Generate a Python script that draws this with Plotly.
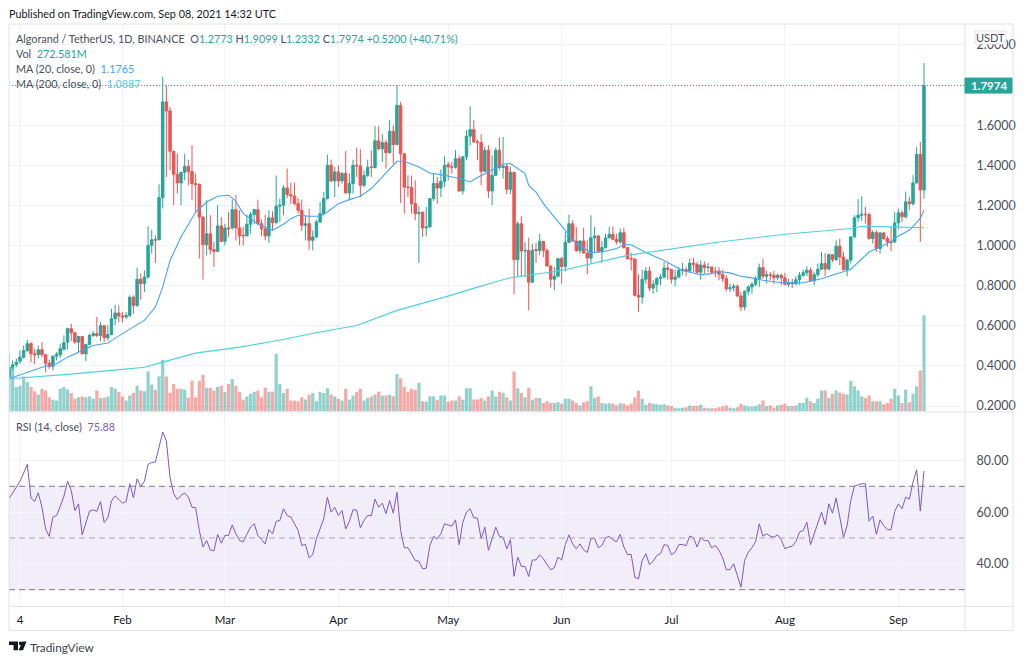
#!/usr/bin/env python3
# ALGO/USDT daily chart, price + volume + RSI panes
import pandas as pd
import plotly.graph_objects as go

# one value per day, Jan 1 -> Sep 8 2021, one line per month
opens = [
    .336, .394, .406, .424, .444, .477, .511, .461, .456, .481, .456, .414, .398, .449, .456, .483, .519, .586, .566, .519, .547, .461, .507, .552, .561, .552, .601, .541, .557, .635, .664,
    .649, .644, .652, .743, .702, .832, .810, .843, 1.001, 1.029, 1.029, 1.239, 1.716, 1.671, 1.470, 1.355, 1.312, 1.365, 1.395, 1.369, 1.309, 1.305, 1.142, 1.004, 1.059, .980, .971, 1.098,
    1.021, 1.088, 1.088, 1.179, 1.088, 1.051, 1.048, 1.106, 1.154, 1.179, 1.109, 1.083, 1.048, 1.138, 1.114, 1.196, 1.201, 1.287, 1.254, 1.247, 1.209, 1.176, 1.101, 1.109, 1.026, 1.043, 1.118, 1.159, 1.234, 1.400, 1.322,
    1.367, 1.322, 1.359, 1.262, 1.309, 1.400, 1.397, 1.300, 1.349, 1.392, 1.389, 1.522, 1.482, 1.513, 1.463, 1.570, 1.503, 1.699, 1.458, 1.292, 1.289, 1.209, 1.159, 1.167, 1.088, 1.093, 1.234, 1.309, 1.287, 1.320,
    1.403, 1.392, 1.390, 1.433, 1.272, 1.442, 1.545, 1.578, 1.517, 1.513, 1.370, 1.475, 1.272, 1.350, 1.475, 1.389, 1.395, 1.280, 1.365, .930, 1.109, .973, .976, .817, .980, .976, 1.021, .976, .898, .832, .847,
    .935, .896, 1.016, 1.109, 1.023, .975, 1.023, .963, .938, 1.039, 1.048, .971, .990, 1.039, 1.056, 1.031, 1.018, 1.064, .990, .935, .933, .752, .743, .832, .873, .788, .807, .835, .843, .888,
    .881, .832, .843, .876, .880, .873, .913, .906, .867, .903, .890, .893, .870, .873, .857, .835, .785, .790, .797, .749, .694, .772, .794, .807, .835, .890, .847, .855, .852, .840, .852,
    .839, .807, .815, .810, .830, .852, .865, .877, .824, .855, .882, .910, .883, .955, .930, .997, .943, .880, .927, 1.043, 1.138, 1.151, 1.156, 1.154, 1.035, 1.065, .985, 1.063, 1.035, 1.018, 1.018,
    1.113, 1.163, 1.143, 1.218, 1.208, 1.312, 1.455, 1.2773,
]
highs = [
    .461, .428, .436, .477, .502, .531, .519, .486, .502, .519, .456, .431, .452, .469, .511, .552, .591, .610, .566, .549, .549, .511, .561, .574, .644, .619, .602, .602, .685, .705, .702,
    .669, .669, .752, .752, .890, .860, .876, 1.096, 1.079, 1.051, 1.305, 1.841, 1.799, 1.691, 1.470, 1.458, 1.367, 1.458, 1.428, 1.500, 1.359, 1.309, 1.146, 1.226, 1.151, 1.018, 1.201, 1.142,
    1.109, 1.167, 1.229, 1.251, 1.176, 1.093, 1.154, 1.167, 1.184, 1.229, 1.129, 1.154, 1.176, 1.171, 1.350, 1.234, 1.300, 1.384, 1.314, 1.314, 1.237, 1.229, 1.151, 1.184, 1.076, 1.129, 1.217, 1.267, 1.453, 1.428, 1.392,
    1.400, 1.367, 1.470, 1.359, 1.428, 1.488, 1.480, 1.375, 1.428, 1.475, 1.596, 1.596, 1.555, 1.528, 1.625, 1.600, 1.799, 1.716, 1.458, 1.350, 1.350, 1.325, 1.196, 1.167, 1.192, 1.237, 1.359, 1.342, 1.380, 1.445,
    1.417, 1.417, 1.475, 1.450, 1.445, 1.575, 1.694, 1.625, 1.528, 1.555, 1.492, 1.500, 1.450, 1.488, 1.538, 1.541, 1.409, 1.392, 1.365, 1.121, 1.147, 1.018, 1.039, 1.009, 1.013, 1.059, 1.021, .985, .901, .893, .935,
    .943, 1.068, 1.154, 1.126, 1.093, 1.026, 1.089, 1.026, 1.151, 1.093, 1.051, 1.023, 1.059, 1.093, 1.096, 1.059, 1.084, 1.088, .993, .963, .935, .857, .880, .893, .896, .827, .843, .860, .918, .913,
    .885, .880, .893, .913, .893, .935, .940, .918, .926, .921, .913, .896, .893, .893, .880, .852, .810, .810, .807, .769, .777, .802, .819, .847, .910, .935, .874, .868, .874, .860, .860,
    .864, .835, .835, .847, .868, .880, .897, .890, .868, .910, .968, .963, .960, .957, 1.026, 1.035, .968, .935, 1.047, 1.151, 1.231, 1.246, 1.193, 1.163, 1.076, 1.076, 1.068, 1.068, 1.047, 1.093, 1.168,
    1.184, 1.176, 1.268, 1.243, 1.351, 1.492, 1.517, 1.9099,
]
lows = [
    .330, .378, .394, .411, .436, .469, .419, .411, .436, .444, .369, .386, .378, .428, .441, .477, .481, .524, .511, .469, .458, .424, .502, .544, .544, .524, .519, .527, .552, .602, .619,
    .619, .635, .644, .660, .694, .730, .768, .835, .960, .913, 1.026, 1.184, 1.342, 1.375, 1.201, 1.259, 1.201, 1.325, 1.300, 1.226, 1.167, .935, .830, .951, .956, .893, .968, 1.018,
    1.001, 1.043, 1.079, 1.026, 1.001, 1.001, 1.059, 1.059, 1.106, 1.106, 1.048, 1.026, 1.013, 1.076, 1.109, 1.118, 1.151, 1.237, 1.209, 1.201, 1.159, 1.073, 1.026, .980, .976, 1.038, 1.113, 1.151, 1.229, 1.317, 1.242,
    1.292, 1.309, 1.259, 1.226, 1.259, 1.342, 1.246, 1.292, 1.342, 1.342, 1.384, 1.475, 1.417, 1.384, 1.458, 1.408, 1.500, 1.212, 1.159, 1.242, 1.159, 1.126, .913, 1.043, 1.046, 1.089, 1.222, 1.209, 1.242, 1.292,
    1.325, 1.359, 1.384, 1.267, 1.254, 1.425, 1.500, 1.512, 1.425, 1.300, 1.367, 1.237, 1.201, 1.350, 1.375, 1.334, 1.256, 1.256, .757, .843, .843, .843, .677, .815, .913, .951, .943, .896, .790, .777, .843,
    .810, .871, 1.013, 1.018, .968, .960, .960, .855, .910, .963, .968, .913, .985, 1.034, 1.026, 1.006, 1.009, .985, .930, .876, .747, .669, .710, .810, .773, .760, .768, .802, .835, .830,
    .810, .797, .840, .852, .847, .867, .868, .857, .830, .860, .868, .860, .843, .827, .819, .772, .769, .772, .744, .674, .677, .752, .760, .797, .794, .835, .810, .827, .810, .827, .802,
    .802, .794, .789, .802, .805, .844, .847, .819, .802, .844, .877, .847, .877, .918, .923, .902, .877, .847, .910, 1.040, 1.118, 1.123, 1.110, 1.030, 1.010, .968, .960, 1.026, .993, .973, 1.013,
    1.080, 1.118, 1.135, 1.176, 1.201, 1.309, 1.018, 1.2332,
]
closes = [
    .394, .406, .419, .444, .477, .511, .461, .456, .481, .456, .414, .398, .449, .458, .486, .516, .586, .566, .519, .547, .461, .507, .552, .561, .552, .601, .541, .557, .635, .664, .649,
    .644, .652, .743, .702, .832, .810, .843, 1.001, 1.029, 1.028, 1.239, 1.716, 1.671, 1.470, 1.355, 1.312, 1.365, 1.395, 1.369, 1.309, 1.304, 1.142, 1.004, 1.059, .980, .971, 1.098, 1.021,
    1.088, 1.083, 1.179, 1.088, 1.048, 1.048, 1.106, 1.154, 1.179, 1.109, 1.083, 1.048, 1.138, 1.114, 1.196, 1.201, 1.287, 1.254, 1.247, 1.209, 1.176, 1.101, 1.109, 1.026, 1.043, 1.118, 1.159, 1.234, 1.400, 1.322, 1.367,
    1.322, 1.359, 1.262, 1.309, 1.400, 1.397, 1.300, 1.349, 1.390, 1.389, 1.522, 1.482, 1.513, 1.463, 1.570, 1.503, 1.699, 1.458, 1.292, 1.289, 1.209, 1.159, 1.164, 1.088, 1.093, 1.234, 1.309, 1.287, 1.320, 1.400,
    1.392, 1.390, 1.433, 1.272, 1.442, 1.545, 1.578, 1.517, 1.513, 1.370, 1.475, 1.272, 1.350, 1.475, 1.389, 1.395, 1.280, 1.365, .930, 1.109, .973, .976, .817, .976, .976, 1.021, .976, .898, .832, .847, .935,
    .896, 1.016, 1.109, 1.023, .975, 1.023, .963, .938, 1.039, 1.048, .971, .990, 1.039, 1.056, 1.031, 1.018, 1.064, .990, .935, .933, .752, .743, .832, .873, .788, .807, .835, .843, .888, .881,
    .832, .843, .876, .880, .873, .913, .906, .867, .903, .890, .893, .867, .867, .857, .835, .785, .790, .797, .749, .694, .772, .794, .807, .835, .890, .847, .855, .852, .840, .852, .839,
    .807, .815, .810, .830, .852, .865, .877, .824, .855, .882, .910, .883, .955, .930, .997, .943, .880, .927, 1.043, 1.138, 1.151, 1.156, 1.154, 1.035, 1.065, .985, 1.063, 1.035, 1.018, 1.015, 1.113,
    1.163, 1.143, 1.218, 1.208, 1.312, 1.455, 1.2773, 1.7974,
]
volumes = [  # millions
    125, 125, 69, 73, 99, 83, 69, 57, 48, 64, 59, 40, 33, 31, 64, 69, 62, 52, 36, 40, 42, 40, 42, 36, 59, 38, 39, 42, 69, 64, 55,
    42, 31, 45, 53, 73, 59, 57, 113, 76, 61, 100, 146, 99, 53, 78, 64, 64, 62, 39, 87, 40, 86, 104, 67, 67, 59, 69, 73,
    55, 78, 92, 73, 55, 33, 42, 50, 56, 59, 40, 67, 56, 56, 163, 78, 52, 64, 31, 31, 29, 40, 34, 47, 52, 29, 55, 52, 66, 48, 42,
    36, 31, 64, 34, 45, 55, 64, 31, 38, 42, 48, 56, 45, 45, 47, 43, 106, 94, 69, 56, 64, 61, 81, 29, 28, 43, 43, 33, 45, 45,
    28, 31, 31, 43, 33, 66, 66, 34, 34, 38, 31, 42, 59, 42, 56, 53, 40, 31, 113, 66, 52, 40, 67, 33, 38, 38, 24, 29, 24, 24, 26,
    22, 36, 36, 31, 24, 17, 26, 29, 71, 39, 42, 24, 22, 23, 22, 17, 23, 22, 17, 22, 40, 59, 36, 19, 24, 22, 20, 19, 20, 17,
    15, 10, 9, 10, 12, 17, 15, 15, 19, 10, 9, 9, 9, 12, 14, 17, 10, 9, 12, 22, 17, 14, 14, 15, 20, 31, 15, 17, 10, 17, 19,
    22, 15, 15, 17, 24, 24, 39, 29, 24, 36, 59, 59, 39, 50, 59, 53, 50, 48, 87, 71, 59, 42, 38, 45, 29, 29, 29, 20, 24, 36, 64,
    45, 24, 62, 26, 50, 71, 116, 272.581,
]
rsi = [
    65.2, 67.5, 69.5, 71.9, 75.1, 78.5, 65.5, 64.1, 67.5, 61.9, 53.5, 50.6, 58.1, 58.7, 62.2, 66.1, 72.0, 68.4, 60.6, 63.2, 51.2, 56.1, 60.4, 60.9, 60.3, 64.1, 56.0, 57.8, 64.3, 66.3, 64.8,
    63.5, 64.1, 71.0, 65.5, 72.9, 69.9, 71.9, 78.5, 79.2, 79.4, 85.2, 91.0, 87.5, 73.5, 67.1, 64.9, 66.5, 67.4, 65.8, 61.9, 61.7, 52.9, 46.5, 49.0, 45.4, 45.0, 51.4, 48.0,
    51.0, 51.0, 55.1, 51.6, 49.0, 48.5, 51.4, 54.2, 55.5, 51.0, 49.4, 47.7, 53.2, 51.6, 56.4, 56.8, 61.3, 58.7, 58.1, 55.5, 52.9, 47.1, 47.5, 42.3, 43.6, 49.7, 53.2, 57.4, 65.8, 60.0, 61.9,
    58.7, 60.6, 53.5, 56.4, 60.9, 60.8, 53.9, 56.8, 58.7, 58.6, 65.0, 61.9, 63.5, 59.4, 64.5, 59.6, 67.7, 52.9, 46.2, 46.2, 43.5, 41.3, 41.0, 38.1, 38.3, 47.1, 50.6, 49.7, 51.6, 55.5,
    55.0, 54.6, 57.0, 47.4, 56.1, 60.0, 61.3, 57.8, 57.7, 49.7, 54.2, 45.2, 49.7, 54.2, 50.6, 50.3, 45.8, 49.3, 35.2, 42.6, 39.0, 39.0, 35.1, 41.5, 41.5, 43.5, 41.9, 39.7, 37.7, 38.5, 42.6,
    41.5, 47.4, 51.2, 47.7, 45.8, 47.7, 45.4, 44.4, 49.7, 49.8, 46.2, 47.1, 50.1, 50.6, 49.4, 48.5, 51.4, 46.5, 43.6, 43.6, 34.8, 34.2, 41.3, 43.9, 39.7, 41.0, 43.2, 43.9, 47.4, 47.1,
    43.5, 44.5, 47.4, 47.5, 47.0, 50.7, 50.1, 46.5, 50.1, 49.0, 49.0, 46.2, 47.1, 45.2, 42.3, 37.7, 37.8, 40.0, 35.5, 31.0, 41.3, 44.5, 46.2, 48.6, 55.5, 50.7, 51.6, 50.7, 50.3, 51.2, 49.3,
    45.8, 46.5, 46.8, 48.6, 52.3, 52.9, 56.1, 47.4, 51.9, 56.1, 60.0, 55.1, 63.2, 59.6, 65.5, 58.1, 50.3, 54.8, 64.5, 70.1, 70.6, 71.0, 71.0, 56.5, 58.5, 51.4, 57.0, 54.8, 53.2, 53.2, 60.3,
    63.2, 61.3, 65.8, 65.0, 71.6, 76.4, 60.4, 75.88,
]

ma20_dates = ["2021-01-01", "2021-01-06", "2021-01-10", "2021-01-14", "2021-01-17", "2021-01-21", "2021-01-24", "2021-01-28",
              "2021-02-01", "2021-02-07", "2021-02-10", "2021-02-12", "2021-02-14", "2021-02-17", "2021-02-21", "2021-02-24", "2021-02-27",
              "2021-03-02", "2021-03-04", "2021-03-05", "2021-03-06", "2021-03-08", "2021-03-10", "2021-03-14", "2021-03-17", "2021-03-19", "2021-03-21", "2021-03-24", "2021-03-27", "2021-03-29",
              "2021-04-01", "2021-04-04", "2021-04-07", "2021-04-10", "2021-04-14", "2021-04-17", "2021-04-19", "2021-04-23", "2021-04-26", "2021-04-30",
              "2021-05-04", "2021-05-07", "2021-05-09", "2021-05-13", "2021-05-16", "2021-05-18", "2021-05-22", "2021-05-23", "2021-05-25", "2021-05-27", "2021-05-30",
              "2021-06-01", "2021-06-03", "2021-06-05", "2021-06-09", "2021-06-12", "2021-06-16", "2021-06-18", "2021-06-20", "2021-06-24", "2021-06-29",
              "2021-07-04", "2021-07-09", "2021-07-12", "2021-07-14", "2021-07-17", "2021-07-20", "2021-07-23", "2021-07-26", "2021-07-31",
              "2021-08-06", "2021-08-11", "2021-08-19", "2021-08-22", "2021-08-24", "2021-08-29",
              "2021-09-01", "2021-09-04", "2021-09-07", "2021-09-08"]
ma20_values = [.336, .369, .394, .411, .444, .477, .502, .514,
               .561, .627, .694, .793, .926, 1.043, 1.167, 1.217, 1.246,
               1.251, 1.222, 1.189, 1.159, 1.134, 1.106, 1.076, 1.106, 1.134, 1.151, 1.146, 1.146, 1.167,
               1.209, 1.229, 1.246, 1.284, 1.359, 1.420, 1.420, 1.392, 1.362, 1.350,
               1.334, 1.317, 1.339, 1.375, 1.405, 1.409, 1.359, 1.300, 1.267, 1.209, 1.142,
               1.093, 1.048, 1.009, .965, .968, .985, 1.004, 1.004, .965, .926,
               .876, .855, .860, .871, .864, .847, .839, .827, .815,
               .815, .835, .882, .935, .968, 1.010,
               1.048, 1.076, 1.135, 1.1765]
ma200_dates = ["2021-01-01", "2021-01-17", "2021-02-01", "2021-02-07", "2021-02-12", "2021-02-21", "2021-03-05", "2021-03-14", "2021-03-27",
               "2021-04-06", "2021-04-17", "2021-04-30", "2021-05-09", "2021-05-18", "2021-06-01", "2021-06-19", "2021-07-14", "2021-08-01",
               "2021-08-19", "2021-08-22", "2021-08-30", "2021-09-08"]
ma200_values = [.336, .358, .383, .394, .419, .464, .494, .522, .569,
                .602, .677, .743, .793, .840, .876, .951, 1.018, 1.056,
                1.085, 1.096, 1.093, 1.0887]

time_ticks = ["2021-01-04", "2021-02-01", "2021-03-01", "2021-04-01", "2021-05-01", "2021-06-01", "2021-07-01", "2021-08-01", "2021-09-01"]
time_labels = ["4", "Feb", "Mar", "Apr", "May", "Jun", "Jul", "Aug", "Sep"]
price_ticks = [.2, .4, .6, .8, 1.0, 1.2, 1.4, 1.6, 2.0]
rsi_ticks = [40, 60, 80]

GREEN = "#26a69a"
RED = "#ef5350"
GRID = "#f0f3fa"
BORDER = "#e0e3eb"
TEXT = "#4a4e59"
FONT = "Lato"
W, H = 1024, 662
Y_STRETCH = 1.004  # the photographed page comes out a touch short vertically

dates = pd.date_range("2021-01-01", periods=len(closes))
vol_colors = ["rgba(38,166,154,0.5)" if c >= o else "rgba(239,83,80,0.5)" for o, c in zip(opens, closes)]


def px_x(x):
    return x / W


def px_y(y):
    return 1 - y * Y_STRETCH / H


fig = go.Figure()
fig.add_trace(go.Bar(x=dates, y=volumes, marker_color=vol_colors, marker_line_width=0, yaxis="y", hoverinfo="skip"))
fig.add_trace(go.Candlestick(x=dates, open=opens, high=highs, low=lows, close=closes, yaxis="y2",
                             increasing=dict(line=dict(color=GREEN, width=1), fillcolor=GREEN),
                             decreasing=dict(line=dict(color=RED, width=1), fillcolor=RED),
                             hoverinfo="skip"))
fig.add_trace(go.Scatter(x=ma20_dates, y=ma20_values, mode="lines", line=dict(color="#42a5f5", width=1.1), yaxis="y2", hoverinfo="skip"))
fig.add_trace(go.Scatter(x=ma200_dates, y=ma200_values, mode="lines", line=dict(color="#4dd0e1", width=1.1), yaxis="y2", hoverinfo="skip"))
fig.add_trace(go.Scatter(x=dates, y=rsi, mode="lines", line=dict(color="#7e57c2", width=1), xaxis="x2", yaxis="y3", hoverinfo="skip"))

x_range = ["2021-01-01", "2021-09-19 05:00"]
x_common = dict(range=x_range, type="date", tickmode="array", tickvals=time_ticks, ticktext=time_labels,
                showgrid=True, gridcolor=GRID, gridwidth=1, zeroline=False, showline=False, rangeslider_visible=False)
axis_font = dict(family=FONT, size=12.5, color=TEXT)
fig.update_layout(
    width=W, height=H, margin=dict(l=0, r=0, t=0, b=0),
    paper_bgcolor="white", plot_bgcolor="white", showlegend=False, bargap=0.12, boxgap=0.05, dragmode=False,
    font=dict(family=FONT, size=11.5, color=TEXT),
    xaxis=dict(domain=[px_x(9), px_x(965)], anchor="y", showticklabels=False, ticks="", **x_common),
    xaxis2=dict(domain=[px_x(9), px_x(965)], anchor="y3", matches="x", ticks="outside", ticklen=3, tickcolor="rgba(0,0,0,0)",
                tickfont=dict(family=FONT, size=11.5, color="#131722"), **x_common),
    yaxis=dict(domain=[px_y(411), px_y(24)], range=[0, 1099], visible=False, fixedrange=True),
    yaxis2=dict(domain=[px_y(411), px_y(24)], range=[.1736, 2.104], overlaying="y", side="right", anchor="x",
                tickmode="array", tickvals=price_ticks + [1.8], ticktext=[f"{v:.4f}" for v in price_ticks] + [""],
                ticks="outside", ticklen=8, tickcolor="rgba(0,0,0,0)", tickfont=axis_font,
                showgrid=True, gridcolor=GRID, zeroline=False, showline=False),
    yaxis3=dict(domain=[px_y(606), px_y(412)], range=[23.45, 98.6], side="right", anchor="x2",
                tickmode="array", tickvals=rsi_ticks, ticktext=[f"{v:.2f}" for v in rsi_ticks],
                ticks="outside", ticklen=8, tickcolor="rgba(0,0,0,0)", tickfont=axis_font,
                showgrid=True, gridcolor=GRID, zeroline=False, showline=False),
)

# RSI band and levels
fig.add_shape(type="rect", xref="x2 domain", yref="y3", x0=0, x1=1, y0=30, y1=70, fillcolor="rgba(126,87,194,0.1)", line_width=0, layer="below")
for level in [70, 50, 30]:
    fig.add_shape(type="line", xref="x2 domain", yref="y3", x0=0, x1=1, y0=level, y1=level,
                  line=dict(color="#787b86" if level != 50 else "#a9abb3", width=1, dash="6px,4px"))
# last price line
fig.add_shape(type="line", xref="x domain", yref="y2", x0=0, x1=1, y0=closes[-1], y1=closes[-1], line=dict(color=GREEN, width=1, dash="1px,2px"))

# frame of the widget
for x0, y0, x1, y1 in [(9, 24, 1013, 24), (9, 630, 1013, 630), (9, 24, 9, 630), (1013, 24, 1013, 630),
                       (965, 24, 965, 630), (9, 411.5, 1013, 411.5), (9, 606, 1013, 606)]:
    fig.add_shape(type="line", xref="paper", yref="paper", x0=px_x(x0), x1=px_x(x1), y0=px_y(y0), y1=px_y(y1), line=dict(color=BORDER, width=1))

# last price flag and USDT button
fig.add_shape(type="rect", xref="paper", yref="paper", x0=px_x(965), x1=px_x(1012), y0=px_y(93), y1=px_y(78),
              fillcolor=GREEN, line=dict(color=GREEN, width=1))
fig.add_shape(type="rect", xref="paper", yref="paper", x0=px_x(975), x1=px_x(1006), y0=px_y(44), y1=px_y(31),
              fillcolor="white", line=dict(color=BORDER, width=1))


def label(x, y, text, size=10.8, color=TEXT, xanchor="left", **kw):
    # annotations carry ~2px of padding on the left
    shift = -2 if xanchor == "left" else 0
    fig.add_annotation(xref="paper", yref="paper", x=px_x(x + shift), y=px_y(y), text=text, showarrow=False,
                       xanchor=xanchor, yanchor="middle", align=kw.pop("align", "left"),
                       font=dict(family=FONT, size=size, color=color), **kw)


def tinted(text, color=GREEN):
    return f"<span style='color:{color}'>{text}</span>"


label(9, 13, "Published on TradingView.com, Sep 08, 2021 14:32 UTC", color="#131722")
label(16, 38, "Algorand / TetherUS, 1D, BINANCE  O" + tinted("1.2773") + " H" + tinted("1.9099") + " L" + tinted("1.2332")
      + " C" + tinted("1.7974") + " " + tinted("+0.5200 (+40.71%)"))
label(16, 53, "Vol  " + tinted("272.581M"))
label(16, 68, "MA (20, close, 0)  " + tinted("1.1765", "#42a5f5"))
label(16, 83, "MA (200, close, 0)  " + tinted("1.0887", "#4dd0e1"))
label(16, 426, "RSI (14, close)  " + tinted("75.88", "#7e57c2"))
label(990.5, 37, "USDT", size=11, xanchor="center", align="center")
label(988.5, 85.5, "<b>" + f"{closes[-1]:.4f}" + "</b>", size=11.5, color="white", xanchor="center")
label(30, 647, "TradingView", size=11.8, color="#3c3f48")

# TV logo
fig.add_shape(type="path", xref="paper", yref="paper", line_width=0, fillcolor="#131722",
              path=" ".join([
                  f"M{px_x(9)},{px_y(641)} L{px_x(18)},{px_y(641)} L{px_x(18)},{px_y(649.5)} L{px_x(13.5)},{px_y(649.5)} L{px_x(13.5)},{px_y(644.5)} L{px_x(9)},{px_y(644.5)} Z",
                  f"M{px_x(22.5)},{px_y(641)} L{px_x(26.5)},{px_y(641)} L{px_x(23)},{px_y(649.5)} L{px_x(18.5)},{px_y(649.5)} Z",
              ]))
fig.add_shape(type="circle", xref="paper", yref="paper", line_width=0, fillcolor="#131722",
              x0=px_x(18.8), x1=px_x(22.4), y0=px_y(641), y1=px_y(644.6))

fig.write_html("out.html", config={"displayModeBar": False},
               post_script="document.documentElement.style.overflow='hidden';document.body.style.margin='0';document.body.style.overflow='hidden';document.body.style.height='662px';")
